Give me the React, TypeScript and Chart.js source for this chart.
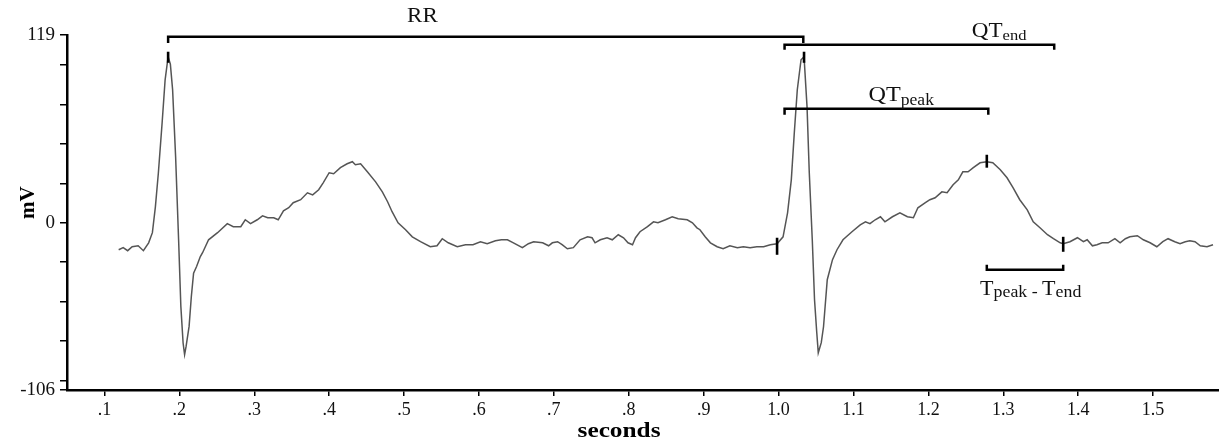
import { useEffect, useRef } from 'react';
import { Chart, registerables } from 'chart.js';

Chart.register(...registerables);

// ECG trace: time (seconds) and amplitude (mV)
const timeSec = [
  0.119, 0.125, 0.131, 0.137, 0.145, 0.152, 0.159, 0.164, 0.168, 0.172, 0.177, 0.181, 0.185, 0.188, 0.191,
  0.195, 0.199, 0.202, 0.205, 0.207, 0.209, 0.213, 0.216, 0.219, 0.223, 0.228, 0.231, 0.239, 0.251, 0.264,
  0.272, 0.282, 0.288, 0.295, 0.304, 0.311, 0.318, 0.326, 0.332, 0.339, 0.346, 0.352, 0.362, 0.371, 0.378,
  0.386, 0.392, 0.400, 0.406, 0.415, 0.424, 0.431, 0.435, 0.442, 0.451, 0.462, 0.471, 0.478, 0.484, 0.492,
  0.502, 0.511, 0.522, 0.535, 0.544, 0.551, 0.559, 0.571, 0.582, 0.592, 0.602, 0.611, 0.622, 0.630, 0.638,
  0.646, 0.658, 0.666, 0.673, 0.685, 0.693, 0.698, 0.705, 0.711, 0.718, 0.726, 0.735, 0.745, 0.751, 0.755,
  0.762, 0.771, 0.778, 0.786, 0.793, 0.799, 0.805, 0.809, 0.815, 0.825, 0.833, 0.839, 0.849, 0.858, 0.866,
  0.878, 0.885, 0.891, 0.895, 0.902, 0.909, 0.918, 0.926, 0.935, 0.945, 0.953, 0.962, 0.971, 0.980, 0.989,
  0.998, 1.006, 1.012, 1.017, 1.021, 1.025, 1.030, 1.034, 1.038, 1.041, 1.045, 1.048, 1.051, 1.053, 1.057,
  1.060, 1.065, 1.072, 1.078, 1.086, 1.098, 1.109, 1.116, 1.122, 1.129, 1.136, 1.142, 1.152, 1.162, 1.172,
  1.180, 1.186, 1.196, 1.202, 1.209, 1.218, 1.225, 1.233, 1.240, 1.246, 1.253, 1.260, 1.269, 1.278, 1.286,
  1.296, 1.305, 1.313, 1.322, 1.332, 1.340, 1.349, 1.359, 1.367, 1.376, 1.380, 1.389, 1.399, 1.407, 1.412,
  1.419, 1.425, 1.432, 1.440, 1.449, 1.456, 1.463, 1.469, 1.479, 1.487, 1.496, 1.505, 1.513, 1.520, 1.529,
  1.536, 1.543, 1.549, 1.556, 1.563, 1.572, 1.580,
];

const voltageMv = [
  -17.1, -15.8, -17.7, -15.2, -14.6, -17.7, -12.7, -6.3, 10.1, 31.7, 63.4, 90.6, 105.2, 100.5, 84.3,
  42.0, -10.8, -53.0, -76.2, -83.6, -78.4, -65.7, -46.7, -31.9, -27.7, -21.4, -19.0, -10.8, -6.3, -0.6,
  -2.5, -2.5, 1.9, -0.6, 1.9, 4.4, 3.2, 3.2, 1.9, 7.6, 9.5, 12.7, 14.6, 19.0, 17.7,
  20.9, 25.3, 31.7, 31.1, 34.9, 37.4, 38.7, 36.8, 37.4, 32.3, 25.9, 19.6, 13.3, 7.0, 0.0,
  -4.4, -8.9, -12.0, -15.2, -14.6, -10.1, -12.7, -15.2, -13.9, -13.9, -12.0, -13.3, -11.4, -10.8, -10.8,
  -12.7, -15.8, -13.3, -12.0, -12.7, -14.6, -12.7, -12.0, -13.9, -16.5, -15.8, -10.8, -8.9, -9.5, -12.7,
  -10.8, -9.5, -10.8, -7.6, -9.5, -12.7, -13.9, -9.5, -5.7, -2.5, 0.6, 0.0, 1.9, 3.8, 2.5,
  1.9, 0.0, -3.2, -4.4, -8.9, -12.7, -15.2, -16.5, -14.6, -15.8, -15.2, -15.8, -15.2, -15.2, -13.9,
  -13.3, -8.9, 6.3, 27.2, 57.0, 84.3, 103.3, 105.2, 73.5, 31.7, -10.8, -48.8, -69.7, -82.4, -76.0,
  -65.9, -36.1, -23.4, -17.1, -10.8, -5.7, -1.3, 0.6, -0.6, 1.9, 3.8, 0.6, 3.8, 6.3, 3.8,
  3.2, 9.5, 12.7, 14.6, 15.8, 19.6, 19.0, 24.1, 27.2, 32.3, 32.3, 34.9, 38.0, 38.7, 38.0,
  33.6, 28.5, 22.2, 14.6, 8.2, 0.6, -3.2, -7.6, -10.1, -12.7, -13.3, -12.0, -9.5, -12.0, -10.8,
  -14.6, -13.9, -12.7, -12.7, -10.1, -12.7, -10.1, -8.9, -8.2, -10.8, -12.7, -15.2, -12.0, -10.1, -12.0,
  -13.3, -12.0, -11.4, -12.0, -14.6, -15.2, -13.9,
];

// Axis ticks
const xTickValues = [0.1, 0.2, 0.3, 0.4, 0.5, 0.6, 0.7, 0.8, 0.9, 1.0, 1.1, 1.2, 1.3, 1.4, 1.5];
const yTickValues = [-106, -100, -75, -50, -25, 0, 25, 50, 75, 100, 119];
const yLabelValues = [-106, 0, 119];
const xMin = 0.05;
const xMax = 1.588;
const yMin = -106;
const yMax = 119;

// Interval brackets (seconds / mV)
const bracketStart = [0.185, 1.008, 1.008, 1.278];
const bracketEnd = [1.033, 1.368, 1.28, 1.38];
const bracketLevel = [117.9, 112.8, 72.2, -29.8];
const bracketHook = [-4.0, -3.2, -3.8, 3.2];

// Fiducial markers (seconds, mV range)
const markerTime = [0.185, 1.034, 0.998, 1.278, 1.38];
const markerLow = [101.4, 101.4, -20.3, 34.9, -18.4];
const markerHigh = [108.4, 108.4, -9.5, 43.1, -8.9];

// Interval labels: segments [text, subscript]
const labelSegments: [string, boolean][][] = [
  [['RR', false]],
  [['QT', false], ['end', true]],
  [['QT', false], ['peak', true]],
  [['T', false], ['peak', true], [' - ', true], ['T', false], ['end', true]],
];
const labelTime = [0.504, 1.258, 1.12, 1.269];
const labelLevel = [127.4, 117.7, 76.9, -45.6];

const xTitle = 'seconds';
const yTitle = 'mV';

const FONT = '"Liberation Serif", "Times New Roman", serif';

const labelStyles = [
  { main: 20, sub: 15, drop: 3, hs: 1.15 },
  { main: 21, sub: 15, drop: 3, hs: 1.1 },
  { main: 22, sub: 16, drop: 4, hs: 1.1 },
  { main: 21, sub: 17, drop: 2, hs: 1.05 },
];

const annotationPlugin = {
  id: 'ecgAnnotations',
  afterDatasetsDraw(chart: any) {
    const { ctx, chartArea } = chart;
    const x = chart.scales.x;
    const y = chart.scales.y;
    ctx.save();
    ctx.strokeStyle = '#000';
    ctx.fillStyle = '#111';
    ctx.lineWidth = 2.5;
    ctx.lineCap = 'butt';
    ctx.lineJoin = 'miter';
    for (let i = 0; i < bracketStart.length; i++) {
      const x1 = x.getPixelForValue(bracketStart[i]);
      const x2 = x.getPixelForValue(bracketEnd[i]);
      const yy = y.getPixelForValue(bracketLevel[i]);
      const yh = y.getPixelForValue(bracketLevel[i] + bracketHook[i]);
      ctx.beginPath();
      ctx.moveTo(x1, yh);
      ctx.lineTo(x1, yy);
      ctx.lineTo(x2, yy);
      ctx.lineTo(x2, yh);
      ctx.stroke();
    }
    ctx.lineWidth = 2.6;
    for (let i = 0; i < markerTime.length; i++) {
      const mx = x.getPixelForValue(markerTime[i]);
      ctx.beginPath();
      ctx.moveTo(mx, y.getPixelForValue(markerLow[i]));
      ctx.lineTo(mx, y.getPixelForValue(markerHigh[i]));
      ctx.stroke();
    }
    ctx.textBaseline = 'alphabetic';
    ctx.textAlign = 'left';
    for (let i = 0; i < labelSegments.length; i++) {
      const st = labelStyles[i];
      ctx.save();
      ctx.translate(x.getPixelForValue(labelTime[i]), y.getPixelForValue(labelLevel[i]));
      ctx.scale(st.hs, 1);
      let cx = 0;
      for (const [text, sub] of labelSegments[i]) {
        ctx.font = `${sub ? st.sub : st.main}px ${FONT}`;
        ctx.fillText(text, cx, sub ? st.drop : 0);
        cx += ctx.measureText(text).width;
      }
      ctx.restore();
    }
    // axis titles
    ctx.fillStyle = '#000';
    ctx.font = `bold 22px ${FONT}`;
    ctx.textAlign = 'center';
    ctx.save();
    ctx.translate(x.getPixelForValue(0.787), chartArea.bottom + 47);
    ctx.scale(1.15, 1);
    ctx.fillText(xTitle, 0, 0);
    ctx.restore();
    ctx.save();
    ctx.translate(chartArea.left - 38, y.getPixelForValue(12.7));
    ctx.rotate(-Math.PI / 2);
    ctx.font = `bold 21px ${FONT}`;
    ctx.textBaseline = 'middle';
    ctx.fillText(yTitle, 0, 0);
    ctx.restore();
    ctx.restore();
  },
};

export default function App() {
  const ref = useRef<HTMLCanvasElement>(null);
  useEffect(() => {
    const canvas = ref.current;
    if (!canvas) return;
    const points = timeSec.map((t, i) => ({ x: t, y: voltageMv[i] }));
    const chart = new Chart(canvas, {
      type: 'line',
      data: {
        datasets: [
          {
            data: points,
            borderColor: '#555555',
            borderWidth: 1.5,
            pointRadius: 0,
            tension: 0,
            fill: false,
          },
        ],
      },
      options: {
        animation: false,
        responsive: false,
        devicePixelRatio: 1,
        layout: { padding: { top: 35, left: 0, right: 0, bottom: 0 } },
        plugins: { legend: { display: false }, tooltip: { enabled: false } },
        scales: {
          x: {
            type: 'linear',
            min: xMin,
            max: xMax,
            afterBuildTicks: (scale: any) => {
              scale.ticks = xTickValues.map((v) => ({ value: v }));
            },
            afterFit: (scale: any) => {
              scale.height = 51;
            },
            ticks: {
              autoSkip: false,
              maxRotation: 0,
              padding: 3,
              color: '#111',
              font: { family: FONT, size: 18 },
              callback: (value: any) => {
                const v = Number(value);
                return v < 0.999 ? '.' + Math.round(v * 10) : v.toFixed(1);
              },
            },
            grid: { drawOnChartArea: false, drawTicks: true, tickLength: 6, color: '#000', lineWidth: 1.5 },
            border: { display: true, color: '#000', width: 2.5 },
          },
          y: {
            type: 'linear',
            min: yMin,
            max: yMax,
            afterBuildTicks: (scale: any) => {
              scale.ticks = yTickValues.map((v) => ({ value: v }));
            },
            afterFit: (scale: any) => {
              scale.width = 67;
            },
            ticks: {
              autoSkip: false,
              padding: 5,
              color: '#111',
              font: { family: FONT, size: 19 },
              callback: (value: any) => (yLabelValues.includes(Number(value)) ? String(value) : ''),
            },
            grid: { drawOnChartArea: false, drawTicks: true, tickLength: 7, color: '#000', lineWidth: 1.5 },
            border: { display: true, color: '#000', width: 2.5 },
          },
        },
      },
      plugins: [annotationPlugin],
    });
    return () => chart.destroy();
  }, []);
  return (
    <div style={{ position: 'fixed', left: 0, top: 0, width: 1219, height: 441, background: '#fff' }}>
      <canvas ref={ref} width={1219} height={441} style={{ display: 'block' }} />
    </div>
  );
}
